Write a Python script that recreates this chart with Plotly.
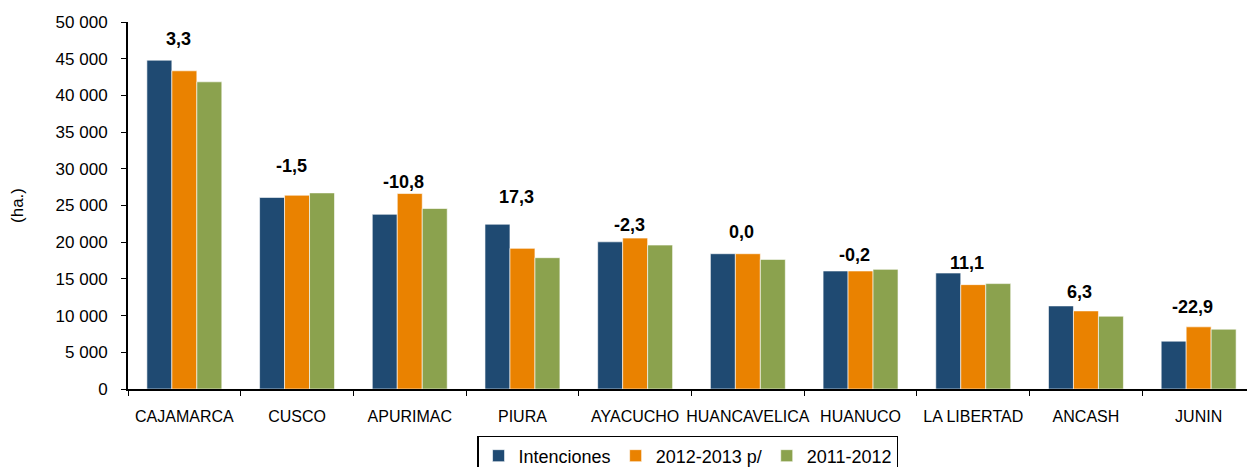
import plotly.graph_objects as go

regiones = ['CAJAMARCA', 'CUSCO', 'APURIMAC', 'PIURA', 'AYACUCHO', 'HUANCAVELICA',
            'HUANUCO', 'LA LIBERTAD', 'ANCASH', 'JUNIN']
intenciones = [44800, 26100, 23800, 22450, 20050, 18430, 16080, 15800, 11320, 6520]
campana_2012_2013 = [43350, 26400, 26630, 19160, 20560, 18430, 16080, 14220, 10640, 8470]
campana_2011_2012 = [41850, 26720, 24590, 17890, 19610, 17660, 16300, 14360, 9920, 8150]
variacion = ['3,3', '-1,5', '-10,8', '17,3', '-2,3', '0,0', '-0,2', '11,1', '6,3', '-22,9']
altura_etiqueta = [47700, 30350, 28250, 26130, 22300, 21400, 18300, 17100, 13250, 11200]

colores = ['#1F4A72', '#EA8200', '#8BA24E']
series = [('Intenciones', intenciones), ('2012-2013 p/', campana_2012_2013),
          ('2011-2012', campana_2011_2012)]

fig = go.Figure()
for (nombre, valores), color in zip(series, colores):
    fig.add_trace(go.Bar(
        x=regiones, y=valores, name=nombre,
        marker=dict(color=color, line=dict(color='rgba(255,255,255,0.6)', width=1)),
        hoverinfo='y+name'
    ))

for reg, txt, alt in zip(regiones, variacion, altura_etiqueta):
    fig.add_annotation(x=reg, y=alt, text='<b>%s</b>' % txt, showarrow=False,
                       xshift=-6, font=dict(size=18, color='black'))

# the page body adds 8px around the figure, so the figure is 8px smaller
fig.update_layout(
    width=1247, height=459,
    margin=dict(l=120, r=0, t=14, b=78, autoexpand=False),
    paper_bgcolor='white', plot_bgcolor='white',
    barmode='group', bargap=0.335, bargroupgap=0,
    separators=', ',
    font=dict(family='Liberation Sans, Arial, sans-serif', color='black'),
    showlegend=True,
    legend=dict(orientation='h', x=0.4965, xanchor='center', y=-0.128, yanchor='top',
                bordercolor='black', borderwidth=1.5, font=dict(size=18),
                itemwidth=30, tracegroupgap=0),
    yaxis=dict(range=[0, 50000], dtick=5000, tickformat=',d', showgrid=False,
               showline=True, linecolor='black', linewidth=2, ticks='outside',
               ticklen=5, tickcolor='black', tickfont=dict(size=17), ticklabelstandoff=10,
               title=dict(text='(ha.)', font=dict(size=17), standoff=48), zeroline=False),
    xaxis=dict(showline=True, linecolor='black', linewidth=2, ticks='outside',
               tickson='boundaries', ticklen=5, tickcolor='black', tickangle=0,
               tickfont=dict(size=16), ticklabelstandoff=12),
)

fig.write_html('out.html')
